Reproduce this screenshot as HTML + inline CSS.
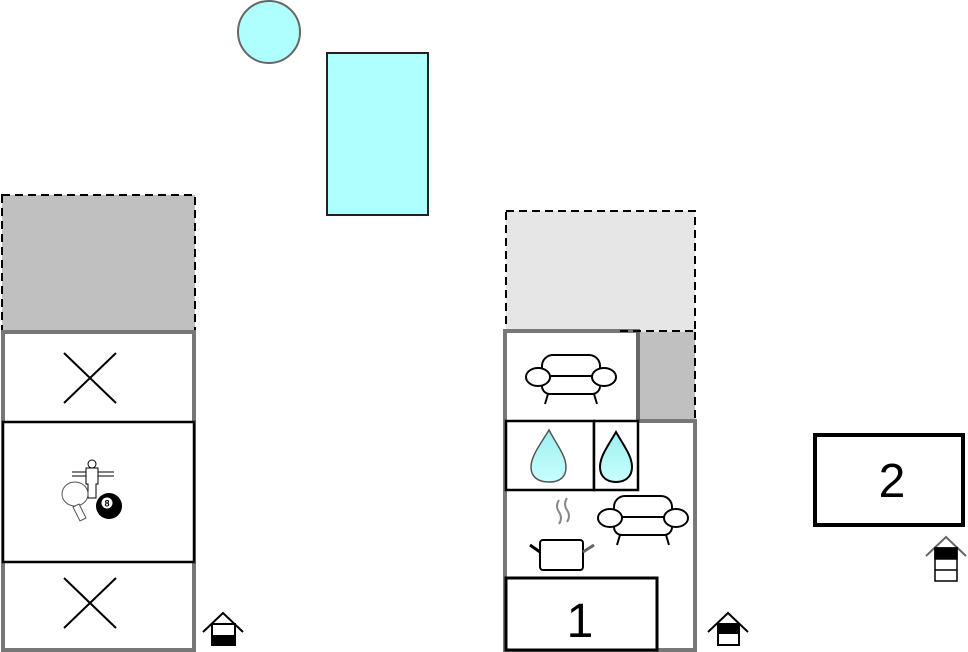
<!DOCTYPE html>
<html><head><meta charset="utf-8"><style>
html,body{margin:0;padding:0;background:#fff;}
svg{display:block;}
text{font-family:"Liberation Sans",sans-serif;}
</style></head><body>
<svg width="968" height="652" viewBox="0 0 968 652" xmlns="http://www.w3.org/2000/svg">
<defs>
<g id="sofa" fill="#fff" stroke="#000" stroke-width="2">
<rect x="-29" y="-25" width="58" height="27" rx="11"/>
<rect x="-29" y="-4" width="58" height="18" rx="8"/>
<line x1="-24" y1="-4" x2="24" y2="-4"/>
<ellipse cx="-33" cy="-3" rx="12" ry="9"/>
<ellipse cx="33" cy="-3" rx="12" ry="9"/>
<line x1="-23" y1="14" x2="-26" y2="24"/>
<line x1="23" y1="14" x2="26" y2="24"/>
</g>
<linearGradient id="dg" x1="0" y1="0" x2="0" y2="1"><stop offset="0" stop-color="#9ef0f0"/><stop offset="1" stop-color="#c8ffff"/></linearGradient>
</defs>

<circle cx="269" cy="32" r="31" fill="#b0ffff" stroke="#666" stroke-width="2"/>
<rect x="327" y="53" width="101" height="162" fill="#b0ffff" stroke="#222" stroke-width="2"/>

<rect x="2" y="195" width="193" height="136" fill="#c0c0c0" stroke="#000" stroke-width="2" stroke-dasharray="8,5"/>
<rect x="3" y="332" width="191" height="318" fill="#fff" stroke="#777" stroke-width="4"/>
<rect x="3" y="422" width="191" height="140" fill="#fff" stroke="#000" stroke-width="2.5"/>
<g stroke="#000" stroke-width="2">
<line x1="64" y1="353" x2="116" y2="403"/><line x1="116" y1="353" x2="64" y2="403"/>
<line x1="64" y1="578" x2="116" y2="628"/><line x1="116" y1="578" x2="64" y2="628"/>
</g>
<g stroke="#000" stroke-width="1" fill="#fff">
<line x1="72" y1="472" x2="114" y2="472"/><line x1="72" y1="476" x2="114" y2="476"/>
<circle cx="92" cy="464" r="4"/>
<path d="M86 468 h12 v16 h-2 v14 h-8 v-14 h-2z"/>
<ellipse cx="75" cy="494" rx="13" ry="12" stroke="#555"/>
<path d="M79 504 l7 14 l-6 3 l-7 -14z" stroke="#555"/>
</g>
<circle cx="109" cy="506" r="13" fill="#000"/>
<circle cx="107" cy="503" r="5.5" fill="#fff"/>
<text x="107" y="506.5" font-size="9" text-anchor="middle" font-weight="bold">8</text>
<g stroke="#000" stroke-width="2" fill="#fff">
<polyline points="203,632 223,613 243,632" fill="none"/>
<rect x="212" y="624" width="23" height="21"/>
<rect x="212" y="636" width="23" height="9" fill="#000"/>
</g>

<rect x="506" y="211" width="189" height="121" fill="#e6e6e6" stroke="#000" stroke-width="2" stroke-dasharray="8,5"/>
<rect x="639" y="332" width="56" height="88" fill="#c0c0c0"/>
<line x1="695" y1="332" x2="695" y2="420" stroke="#000" stroke-width="2" stroke-dasharray="8,5"/>
<path d="M505 331 H638 V421 H695 V650 H505 Z" fill="#fff" stroke="#777" stroke-width="4"/>
<line x1="638" y1="332" x2="638" y2="421" stroke="#666" stroke-width="4"/>
<line x1="620" y1="331" x2="695" y2="331" stroke="#000" stroke-width="2" stroke-dasharray="8,5"/>
<rect x="506" y="421" width="88" height="69" fill="#fff" stroke="#000" stroke-width="2.5"/>
<rect x="594" y="421" width="44" height="69" fill="#fff" stroke="#000" stroke-width="2.5"/>
<path d="M549 430 C540 445 531 456 531 467 C531 477 538 482 549 482 C560 482 566 477 566 467 C566 456 557 445 549 430Z" fill="url(#dg)" stroke="#555" stroke-width="1.5"/>
<path d="M616 432 C608 446 600 456 600 467 C600 477 607 482 616 482 C625 482 632 477 632 467 C632 456 624 446 616 432Z" fill="url(#dg)" stroke="#000" stroke-width="2"/>
<use href="#sofa" transform="translate(571,380)"/>
<use href="#sofa" transform="translate(643,521)"/>
<g fill="none" stroke="#888" stroke-width="2">
<path d="M559 500 q-4 6 0 12 q4 6 0 12"/>
<path d="M567 498 q-4 6 0 12 q4 6 0 12"/>
</g>
<rect x="540" y="540" width="43" height="30" rx="3" fill="#fff" stroke="#000" stroke-width="2"/>
<line x1="530" y1="545" x2="540" y2="552" stroke="#000" stroke-width="3"/>
<line x1="583" y1="552" x2="594" y2="545" stroke="#666" stroke-width="3"/>
<rect x="506" y="578" width="151" height="72" fill="#fff" stroke="#000" stroke-width="3"/>
<text x="580" y="637" font-size="48" text-anchor="middle">1</text>
<g stroke="#000" stroke-width="2" fill="#fff">
<polyline points="708,632 728,613 748,632" fill="none"/>
<rect x="718" y="624" width="21" height="21"/>
<rect x="718" y="624" width="21" height="9" fill="#000"/>
</g>

<rect x="815" y="435" width="148" height="90" fill="#fff" stroke="#000" stroke-width="4"/>
<text x="892" y="497" font-size="48" text-anchor="middle">2</text>
<g stroke="#000" stroke-width="1.5" fill="#fff">
<polyline points="926,556 946,537 966,556" fill="none" stroke="#666" stroke-width="2"/>
<rect x="935" y="548" width="22" height="33"/>
<rect x="935" y="548" width="22" height="11" fill="#000"/>
<line x1="935" y1="570" x2="957" y2="570"/>
</g>
</svg>
</body></html>
